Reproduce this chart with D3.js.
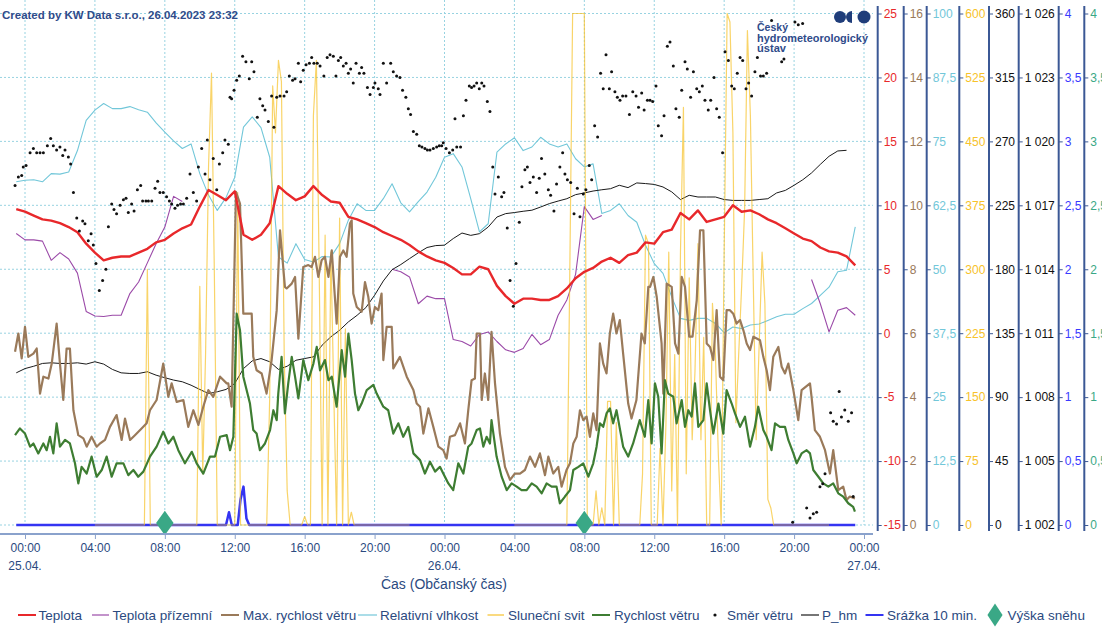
<!DOCTYPE html>
<html><head><meta charset="utf-8">
<script src="https://cdn.jsdelivr.net/npm/d3@7"></script>
<style>
html,body{margin:0;padding:0;background:#fff;}
svg{display:block;font-family:"Liberation Sans",Arial,sans-serif;}
</style></head><body>
<svg id="chart" width="1102" height="627"></svg>
<script>
// ---------------- DATA ----------------
// 30-minute samples from 24.04. 23:30 to 26.04. 23:30 (hours relative to 25.04. 00:00)
const firstHour = -0.5;
const stepHours = 0.5;

const teplota = [9.7,9.5,9.2,8.9,8.8,8.6,8.3,7.9,7.0,6.3,5.7,5.9,6.0,6.0,6.3,6.6,7.1,7.3,7.8,8.2,8.5,9.9,11.2,10.8,
10.4,11.1,7.7,7.3,7.7,8.6,11.5,10.9,10.4,10.7,11.5,10.8,10.3,10.2,9.1,8.9,8.6,8.3,7.9,7.6,7.3,6.9,6.4,6.0,5.7,
5.5,5.1,4.6,4.6,5.2,5.0,3.7,2.9,2.3,2.7,2.7,2.6,2.6,2.9,3.5,4.3,4.8,5.1,5.6,5.9,5.5,6.1,6.3,7.1,
7.0,7.9,8.1,9.4,8.9,9.6,8.7,8.9,9.1,10.0,9.5,9.6,9.3,8.9,8.6,8.2,7.8,7.4,7.2,6.7,6.4,6.3,6.0,5.3];

const teplotaPrizemni = [7.8,7.3,7.3,7.2,5.7,6.3,5.8,4.7,1.7,1.35,1.3,1.4,1.4,3.1,4.0,5.5,7.0,8.3,10.7,10.3,
null,null,null,null,null,null,null,null,null,null,null,null,null,null,null,null,null,null,null,null,null,null,null,
5.0,4.8,4.4,2.3,2.9,2.7,2.7,-0.5,-0.65,-1.0,-0.1,0.1,-0.65,-1.3,-1.5,-1.2,-0.1,-0.9,-0.5,1.4,2.6,4.6,9.9,8.9,9.2,
null,null,null,null,null,null,null,null,null,null,null,null,null,null,null,null,null,null,null,null,null,null,null,
4.2,2.3,0.1,1.8,2.0,1.4];

const vlhkost = [67.1,67.4,67.5,67.1,68.7,68.6,69.0,73.2,79.1,81.1,82.4,81.4,81.4,81.8,81.2,80.7,78.6,76.8,75.1,73.6,74.5,68.7,64.5,61.5,
64.0,68.0,77.8,79.8,77.7,71.9,52.4,51.2,55.0,51.9,51.4,52.5,52.4,55.0,59.6,62.8,61.5,61.5,63.8,66.7,63.0,61.2,63.2,65.1,68.0,
71.9,72.6,70.0,63.8,57.3,58.9,72.9,74.5,75.7,73.2,73.9,75.8,74.5,73.9,74.5,71.6,70.0,70.6,60.9,61.5,62.8,60.5,59.2,54.7,
51.1,49.2,44.6,40.4,40.0,40.4,40.4,39.4,37.6,38.7,38.4,39.1,39.3,40.0,40.7,41.2,41.2,42.3,43.3,44.9,46.5,49.5,49.8,58.3];

const pHm = [1009.14,1009.34,1009.45,1009.58,1009.61,1009.58,1009.58,1009.61,1009.55,1009.66,1009.55,1009.30,1009.14,1009.11,1009.11,1009.19,1009.03,1008.91,1008.80,1008.72,1008.56,1008.36,1008.17,1008.25,
1008.36,1008.64,1009.34,1009.70,1009.81,1009.66,1009.30,1009.45,1009.73,1009.81,1009.89,1010.44,1010.83,1011.14,1011.53,1011.84,1012.20,1012.78,1013.45,1013.98,1014.22,1014.50,1014.77,1015.02,1015.11,
1015.13,1015.44,1015.70,1015.59,1015.67,1015.98,1016.45,1016.61,1016.66,1016.72,1016.77,1016.92,1017.08,1017.20,1017.31,1017.50,1017.58,1017.67,1017.73,1017.78,1017.94,1017.83,1018.05,1018.02,
1017.98,1017.86,1017.63,1017.27,1017.47,1017.39,1017.39,1017.39,1017.27,1017.23,1017.23,1017.23,1017.27,1017.31,1017.58,1017.70,1017.94,1018.20,1018.52,1018.92,1019.30,1019.55,1019.58,null];

// Max. wind speed [hour, m/s]
const maxRychlost = [[-0.57,5.42],[-0.38,5.99],[-0.19,5.21],[0.0,6.2],[0.19,5.26],[0.48,5.36],[0.67,5.52],[0.86,4.11],[1.05,4.64],[1.34,4.58],[1.53,5.05],[1.81,6.3],[2.0,5.05],[2.19,3.91],[2.38,5.52],[2.57,5.52],[2.77,3.59],[3.05,2.81],[3.34,2.71],[3.53,2.45],[3.81,2.76],[4.1,2.45],[4.29,2.55],[4.58,2.66],[4.86,3.07],[5.24,3.44],[5.53,2.66],[5.72,3.33],[6.01,2.66],[6.29,2.81],[6.67,3.02],[6.96,3.18],[7.15,3.59],[7.53,3.91],[7.91,5.05],[8.2,4.01],[8.39,4.43],[8.68,3.85],[9.06,3.91],[9.34,3.07],[9.63,3.59],[9.92,3.13],[10.2,3.7],[10.49,4.22],[10.77,4.01],[11.16,4.64],[11.54,4.43],
[11.63,4.43],[11.82,3.7],[12.07,10.42],[12.3,10.05],[12.49,6.61],[12.68,6.61],[12.97,6.61],[13.06,5.26],[13.25,4.84],[13.54,4.74],[13.82,4.11],[14.11,5.16],[14.4,6.72],[14.59,9.22],[14.87,7.45],[14.97,7.4],[15.26,7.55],[15.45,7.76],[15.64,5.83],[15.92,8.07],[16.21,8.13],[16.4,8.07],[16.59,8.39],[16.78,7.76],[16.97,8.28],[17.16,8.39],[17.36,7.76],[17.55,8.59],[17.83,6.3],[18.02,8.39],[18.21,8.59],[18.4,8.39],[18.59,9.43],[18.69,9.53],[18.78,7.24],[18.98,6.82],[19.26,6.67],[19.45,7.6],[19.64,7.14],[19.83,6.3],[20.02,6.82],[20.21,6.72],[20.4,7.24],[20.5,5.16],[20.69,6.2],[20.98,6.2],[21.07,4.9],[21.45,5.26],[21.84,4.64],[22.22,4.22],[22.41,3.8],[22.6,3.7],[22.79,2.86],[23.08,3.65],[23.36,3.07],[23.65,2.45],
[23.93,2.34],[24.12,2.08],[24.31,2.76],[24.6,2.81],[24.89,3.18],[25.17,2.55],[25.36,3.59],[25.55,4.53],[25.74,4.58],[25.84,5.99],[26.03,5.99],[26.13,3.91],[26.31,4.74],[26.5,3.91],[26.69,6.04],[26.89,4.43],[27.17,2.86],[27.46,1.82],[27.75,1.41],[28.03,1.61],[28.32,1.61],[28.6,1.72],[28.89,2.14],[29.18,1.82],[29.46,2.24],[29.75,1.56],[29.94,2.14],[30.22,1.61],[30.51,1.82],[30.7,1.2],[30.98,1.72],[31.18,1.93],[31.37,2.55],[31.56,2.76],[31.75,3.59],[31.94,3.28],[32.13,3.39],[32.32,2.76],[32.51,3.49],[32.7,2.97],[32.89,5.68],[33.08,5.05],[33.27,4.74],[33.46,5.99],[33.65,6.61],[33.84,5.99],[34.03,6.41],[34.22,5.36],[34.51,3.8],[34.7,3.33],[34.98,3.91],[35.27,5.99],[35.46,5.68],[35.66,7.45],
[35.76,7.45],[35.95,7.76],[36.14,7.14],[36.42,5.68],[36.52,4.11],[36.71,7.55],[37.0,7.45],[37.19,5.68],[37.38,5.36],[37.57,7.76],[37.76,7.45],[38.0,5.89],[38.19,5.89],[38.43,7.03],[38.62,9.22],[38.81,9.22],[39.0,5.68],[39.19,5.57],[39.38,5.16],[39.57,6.72],[39.76,4.64],[39.95,4.53],[40.14,6.72],[40.33,6.72],[40.52,6.61],[40.71,6.3],[40.91,6.41],[41.1,6.09],[41.29,5.68],[41.48,5.47],[41.67,5.89],[42.05,5.78],[42.24,5.26],[42.43,4.84],[42.62,4.22],[42.81,5.26],[43.1,5.57],[43.29,4.95],[43.48,4.74],[43.67,5.05],[43.96,4.22],[44.24,3.28],[44.43,4.22],[44.91,4.43],[45.0,4.01],[45.19,2.97],[45.48,2.76],[45.77,2.34],[46.05,1.61],[46.24,2.34],[46.53,1.09],[46.81,1.2],[47.0,0.78],[47.19,0.89],[47.48,0.83]];

// Wind speed [hour, m/s]
const rychlost = [[-0.57,2.81],[-0.29,3.02],[0.0,2.86],[0.29,2.45],[0.48,2.55],[0.76,2.24],[1.05,2.55],[1.24,2.34],[1.43,2.76],[1.62,2.24],[1.81,3.18],[2.0,2.45],[2.29,2.66],[2.57,2.55],[2.86,1.93],[3.05,1.3],[3.24,1.82],[3.53,1.61],[3.81,2.14],[4.1,1.51],[4.39,1.72],[4.67,2.14],[4.96,1.51],[5.24,1.93],[5.63,1.93],[5.91,1.56],[6.2,1.72],[6.48,1.51],[6.77,1.67],[7.15,2.14],[7.53,2.45],[7.91,2.92],[8.2,2.55],[8.49,2.76],[8.77,2.34],[9.15,1.93],[9.54,2.29],[9.82,1.93],[10.2,1.61],[10.58,2.14],[10.87,2.14],[11.16,2.76],[11.54,2.81],
[11.73,2.34],[11.92,2.76],[12.01,4.64],[12.11,6.61],[12.3,6.09],[12.49,4.64],[12.87,3.8],[13.06,2.97],[13.25,2.86],[13.44,2.34],[13.73,2.55],[14.02,2.97],[14.21,3.59],[14.4,3.28],[14.49,4.11],[14.68,5.26],[14.87,3.49],[15.06,4.43],[15.26,5.26],[15.45,4.64],[15.64,3.96],[15.92,5.16],[16.21,4.53],[16.5,5.05],[16.69,5.57],[16.88,4.84],[17.16,5.16],[17.36,4.53],[17.55,4.64],[17.83,3.7],[18.12,5.47],[18.31,4.64],[18.5,5.99],[18.69,5.16],[18.88,4.11],[19.07,3.59],[19.26,3.8],[19.55,4.22],[19.93,4.38],[20.12,4.11],[20.5,3.7],[20.78,3.59],[21.07,2.86],[21.36,3.18],[21.64,2.76],[21.93,3.07],[22.22,2.24],[22.6,2.03],[22.88,1.61],[23.17,1.98],[23.46,1.67],[23.74,1.82],
[23.93,1.61],[24.22,1.3],[24.5,1.09],[24.79,1.93],[25.08,1.61],[25.36,2.45],[25.55,2.55],[25.84,2.97],[26.03,3.02],[26.22,2.45],[26.41,2.76],[26.6,2.55],[26.69,3.28],[26.98,2.14],[27.27,1.51],[27.56,1.09],[27.84,1.3],[28.13,1.2],[28.41,1.09],[28.7,1.09],[28.99,1.3],[29.27,1.2],[29.56,0.99],[29.84,1.3],[30.13,1.2],[30.41,1.2],[30.6,0.68],[30.89,0.89],[31.18,1.09],[31.37,1.72],[31.66,1.82],[31.94,1.93],[32.23,1.51],[32.51,1.93],[32.7,2.45],[32.89,3.18],[33.08,3.07],[33.27,3.49],[33.46,3.65],[33.65,3.18],[33.84,3.59],[34.22,2.45],[34.51,2.14],[34.79,2.55],[35.17,3.28],[35.46,2.76],[35.66,3.91],
[35.85,2.55],[36.04,4.43],[36.23,4.01],[36.42,2.24],[36.61,4.53],[36.8,4.11],[37.09,4.01],[37.28,3.18],[37.57,3.91],[37.76,3.07],[37.95,3.59],[38.14,3.39],[38.33,4.43],[38.52,3.07],[38.81,3.28],[39.0,4.43],[39.19,3.59],[39.38,2.86],[39.67,3.8],[39.95,2.86],[40.14,4.22],[40.43,3.8],[40.62,3.49],[40.91,3.07],[41.19,3.39],[41.48,2.45],[41.76,3.07],[41.95,3.7],[42.24,2.97],[42.43,2.76],[42.71,2.34],[42.91,3.18],[43.19,3.07],[43.48,3.07],[43.67,2.66],[43.96,2.24],[44.15,1.93],[44.43,2.24],[44.72,2.34],[44.91,2.24],[45.1,1.72],[45.39,1.51],[45.67,1.3],[45.96,1.2],[46.24,1.3],[46.53,0.99],[46.81,0.89],[47.1,0.68],[47.38,0.57],[47.48,0.42]];

// Sunshine [hour, seconds per 10 min]; null = no data
const slunecniSvit = [[4.0,0],[6.83,0],[7.0,300],[7.17,0],
[9.83,0],[10.0,280],[10.17,60],[10.33,200],[10.5,420],[10.67,530],[10.83,300],[11.0,0],
[12.0,0],[12.17,390],[12.33,0],
[13.83,0],[14.0,150],[14.17,515],[14.33,460],[14.5,545],[14.67,520],[14.83,200],[15.0,40],[15.17,0],
[15.83,0],[16.0,10],[16.17,0],
[16.33,0],[16.5,480],[16.67,545],[16.83,300],[17.0,0],[17.17,340],[17.33,0],[17.5,320],[17.67,150],[17.83,0],[18.0,360],[18.17,0],[18.33,230],[18.5,0],[18.67,15],[18.83,0],
[22.0,0],[22.17,null],
[28.0,0],[31.0,0],[31.17,300],[31.33,600],[31.5,600],[31.67,600],[31.83,600],[32.0,600],[32.17,0],
[32.5,0],[32.67,40],[32.83,0],[33.0,20],[33.17,0],[33.33,145],[33.5,145],[33.67,0],[33.83,120],[34.0,0],
[35.17,0],[35.33,60],[35.5,340],[35.67,330],[35.83,0],[36.17,0],[36.33,90],[36.5,0],[36.67,120],[36.83,320],[37.0,40],[37.17,200],[37.33,0],
[37.5,320],[37.67,490],[37.83,60],[38.0,290],[38.17,100],[38.33,180],[38.5,330],[38.67,100],[38.83,220],[39.0,0],[39.17,0],[39.33,260],[39.5,200],[39.67,80],[39.83,0],
[40.0,320],[40.17,600],[40.33,590],[40.5,460],[40.67,120],[40.83,200],[41.0,280],[41.17,370],[41.33,580],[41.5,480],[41.67,280],[41.83,100],[42.0,210],[42.17,320],[42.33,260],[42.5,30],[42.67,20],[42.83,0],
[46.0,0],[46.17,null]];

// Precipitation 10 min [hour, mm]
const srazka = [[-0.5,0],[11.5,0],[11.67,0.1],[11.83,0],[12.17,0],[12.33,0.2],[12.5,0.3],[12.67,0.05],[12.83,0],[47.5,0]];

// Snow height [hour, cm]
const vyskaSnehu = [[8,0],[32,0]];

// Wind direction [hour, degrees]
const smerVetru = [[-0.57,239],[-0.38,245],[-0.19,246],[-0.1,252],[0.06,253],[0.29,262],[0.48,265],[0.67,262],[0.86,262],[1.05,262],[1.28,267],[1.47,272],[1.62,267],[1.81,264],[2.0,266],[2.16,260],[2.29,264],[2.48,259],[2.61,254],[2.77,234],[2.96,216],[3.11,207],[3.3,214],[3.43,212],[3.62,200],[3.78,205],[3.91,197],[4.06,184],[4.25,165],[4.44,172],[4.63,180],[4.77,210],[4.96,226],[5.09,222],[5.24,219],[5.44,225],[5.63,229],[5.78,230],[5.91,220],[6.1,226],[6.24,221],[6.43,236],[6.62,239],[6.73,228],[6.92,228],[7.06,228],[7.25,228],[7.44,237],[7.59,242],[7.72,234],[7.91,234],[8.1,231],[8.26,228],[8.39,226],[8.58,223],[8.73,225],[8.9,226],[9.06,226],[9.25,230],[9.44,247],[9.63,234],[9.82,228],[9.92,252],[10.11,265],[10.3,247],[10.43,271],[10.58,243],[10.77,258],[10.97,236],[11.12,254],[11.31,262],[11.44,271],[11.63,268],[11.73,301],
[11.82,300],[11.96,306],[12.11,313],[12.26,316],[12.45,330],[12.64,326],[12.83,314],[12.97,326],[13.1,319],[13.29,287],[13.44,300],[13.6,295],[13.73,292],[13.92,284],[14.11,302],[14.24,280],[14.4,301],[14.59,302],[14.82,302],[14.97,305],[15.12,316],[15.31,313],[15.45,314],[15.64,325],[15.77,312],[15.92,320],[16.08,324],[16.27,325],[16.4,329],[16.53,325],[16.72,325],[16.88,323],[17.1,316],[17.29,329],[17.45,331],[17.64,330],[17.79,316],[17.93,327],[18.06,329],[18.21,323],[18.37,325],[18.5,318],[18.63,321],[18.78,311],[18.94,325],[19.13,318],[19.26,322],[19.39,318],[19.59,308],[19.74,303],[19.93,308],[20.02,311],[20.21,307],[20.31,303],[20.5,325],[20.69,311],[20.92,325],[21.07,319],[21.26,316],[21.45,315],[21.6,306],[21.79,301],[21.93,293],[22.06,289],[22.22,277],[22.41,275],[22.56,267],[22.71,266],[22.88,265],[23.02,264],[23.17,264],[23.36,265],[23.55,266],[23.7,267],
[23.84,267],[23.93,269],[24.09,265],[24.28,262],[24.47,264],[24.6,286],[24.7,266],[24.92,266],[25.08,288],[25.23,299],[25.42,309],[25.55,308],[25.69,309],[25.84,311],[25.99,307],[26.13,311],[26.26,309],[26.45,298],[26.6,291],[26.76,252],[26.89,233],[27.08,245],[27.27,231],[27.4,234],[27.59,209],[27.75,172],[27.94,154],[28.09,184],[28.28,213],[28.43,238],[28.6,250],[28.74,252],[28.89,241],[29.08,245],[29.27,234],[29.42,244],[29.55,258],[29.74,247],[29.94,236],[30.07,232],[30.26,221],[30.41,240],[30.6,252],[30.76,262],[30.89,247],[31.03,243],[31.22,241],[31.41,219],[31.6,237],[31.75,217],[31.94,233],[32.09,236],[32.28,253],[32.42,243],[32.59,281],[32.76,273],[32.93,318],[33.08,307],[33.24,331],[33.43,307],[33.56,319],[33.75,305],[33.89,301],[34.04,299],[34.19,302],[34.38,302],[34.58,289],[34.77,305],[34.96,302],[35.1,294],[35.28,304],[35.42,292],[35.61,299],
[35.76,299],[35.91,298],[36.1,309],[36.23,281],[36.42,274],[36.56,288],[36.75,337],[36.9,340],[37.09,323],[37.24,293],[37.43,287],[37.57,306],[37.76,326],[37.89,321],[38.08,301],[38.24,319],[38.43,307],[38.58,305],[38.75,309],[38.9,299],[39.09,292],[39.23,299],[39.42,315],[39.57,293],[39.72,287],[39.91,262],[40.05,333],[40.24,327],[40.43,309],[40.58,307],[40.75,318],[40.91,329],[41.06,327],[41.25,307],[41.4,311],[41.57,302],[41.76,319],[41.9,329],[42.08,316],[42.24,316],[42.43,318],[42.71,355],[43.29,326],[43.42,328],[43.92,2],[44.05,354],[44.24,352],[44.49,353],[44.72,12],[44.91,5],[45.1,8],[45.29,9],[45.48,27],[45.64,29],[45.77,36],[46.09,79],[46.24,73],[46.43,71],[46.58,94],[46.71,76],[46.9,81],[47.1,73],[47.29,79],[47.38,20]];

// Axis tick values
const ticksTeplota = [-15,-10,-5,0,5,10,15,20,25];
const ticksVitr = [0,2,4,6,8,10,12,14,16];
const ticksVlhkost = [0,12.5,25,37.5,50,62.5,75,87.5,100];
const ticksSvit = [0,75,150,225,300,375,450,525,600];
const ticksSmer = [0,45,90,135,180,225,270,315,360];
const ticksTlak = [1002,1005,1008,1011,1014,1017,1020,1023,1026];
const ticksSrazka = [0,0.5,1,1.5,2,2.5,3,3.5,4];
const ticksSnih = [0,0.5,1,1.5,2,2.5,3,3.5,4];

const legendNames = ["Teplota","Teplota přízemní","Max. rychlost větru","Relativní vlhkost","Sluneční svit","Rychlost větru","Směr větru","P_hm","Srážka 10 min.","Výška sněhu"];

// ---------------- CHART ----------------
(function(){
const svg = d3.select("#chart");
const H0 = Date.UTC(2023,3,25,0,0);
const toDate = h => new Date(H0 + h*3600e3);

const x = d3.scaleUtc().domain([toDate(0), toDate(48)]).range([25, 864]);
const plotTop = 13.5, plotBottom = 525;
const yT = d3.scaleLinear([-15,25],[plotBottom,plotTop]);
const yW = d3.scaleLinear([0,16],[plotBottom,plotTop]);
const yH = d3.scaleLinear([0,100],[plotBottom,plotTop]);
const yS = d3.scaleLinear([0,600],[plotBottom,plotTop]);
const yD = d3.scaleLinear([0,360],[plotBottom,plotTop]);
const yP = d3.scaleLinear([1002,1026],[plotBottom,plotTop]);
const yR = d3.scaleLinear([0,4],[plotBottom,plotTop]);
const yN = d3.scaleLinear([0,4],[plotBottom,plotTop]);

const loc = d3.formatLocale({decimal:",",thousands:"\u00a0",grouping:[3],currency:["",""],minus:"-"});
const fmt = loc.format(",.1~f");

const navy = "#2b4a7f";
const gridCol = "#98d3e1";

// grid
const xTicks = d3.range(0,49,4).map(toDate);
const gGrid = svg.append("g");
gGrid.selectAll("line.v").data(xTicks).join("line").attr("class","v")
  .attr("x1",d=>x(d)).attr("x2",d=>x(d)).attr("y1",0).attr("y2",plotBottom)
  .attr("stroke",gridCol).attr("stroke-width",1).attr("stroke-dasharray","2,2");
gGrid.selectAll("line.h").data(ticksTeplota).join("line").attr("class","h")
  .attr("x1",0).attr("x2",873).attr("y1",d=>yT(d)).attr("y2",d=>yT(d))
  .attr("stroke",gridCol).attr("stroke-width",1).attr("stroke-dasharray","2,2");

// series helpers
const seq = arr => arr.map((v,i)=>({t:toDate(firstHour+i*stepHours), v}));
const pairs = arr => arr.map(p=>({t:toDate(p[0]), v:p[1]}));
function drawLine(data, y, color, width, opacity){
  svg.append("path").datum(data)
    .attr("fill","none").attr("stroke",color).attr("stroke-width",width)
    .attr("stroke-opacity",opacity||1).attr("stroke-linejoin","round")
    .attr("d", d3.line().defined(d=>d.v!=null).x(d=>x(d.t)).y(d=>y(d.v)));
}

drawLine(seq(vlhkost), yH, "#72c7d9", 1.1);
drawLine(seq(teplotaPrizemni), yT, "#9b4aa8", 1.1);
drawLine(seq(pHm), yP, "#1a1a1a", 1);
drawLine(pairs(srazka), yR, "#3434f2", 2.5);
drawLine(pairs(slunecniSvit), yS, "#f7c22a", 1.2, 0.7);
drawLine(pairs(maxRychlost), yW, "#9a7a5a", 2.2);
drawLine(pairs(rychlost), yW, "#3e7d32", 2.2);
drawLine(seq(teplota), yT, "#e8282b", 2.4);

// wind direction dots
svg.append("g").selectAll("circle").data(pairs(smerVetru)).join("circle")
  .attr("cx",d=>x(d.t)).attr("cy",d=>yD(d.v)).attr("r",1.5).attr("fill","#111");

// snow diamonds
const diamond = d3.symbol().type(d3.symbolDiamond).size(170);
svg.append("g").selectAll("path").data(pairs(vyskaSnehu)).join("path")
  .attr("d",diamond).attr("transform",d=>`translate(${x(d.t)},${yN(d.v)-2}) scale(1.25,1)`)
  .attr("fill","#3aa886");

// x axis
svg.append("line").attr("x1",0).attr("x2",873).attr("y1",534).attr("y2",534)
  .attr("stroke","#8aa2cc").attr("stroke-width",2);
const xAxis = svg.append("g").attr("transform","translate(0,534)")
  .call(d3.axisBottom(x).tickValues(xTicks).tickFormat(d3.utcFormat("%H:%M")).tickSize(5).tickPadding(4));
xAxis.select(".domain").remove();
xAxis.selectAll(".tick line").attr("stroke","#8aa2cc");
xAxis.selectAll(".tick text").attr("fill",navy).attr("font-size",12).attr("font-family","Liberation Sans, Arial, sans-serif");
svg.append("g").selectAll("text").data(xTicks.filter(d=>d.getUTCHours()===0)).join("text")
  .attr("x",d=>x(d)).attr("y",570).attr("text-anchor","middle").attr("font-size",12).attr("fill",navy)
  .text(d3.utcFormat("%d.%m."));
svg.append("text").attr("x",444).attr("y",589).attr("text-anchor","middle").attr("font-size",14)
  .attr("fill",navy).text("Čas (Občanský čas)");

// right axes
const axesCfg = [
  {x:877.7, s:yT, t:ticksTeplota, c:"#e8282b"},
  {x:903.7, s:yW, t:ticksVitr, c:"#9a7a5a"},
  {x:926.7, s:yH, t:ticksVlhkost, c:"#72c7d9"},
  {x:959.3, s:yS, t:ticksSvit, c:"#f7c22a"},
  {x:989, s:yD, t:ticksSmer, c:"#111"},
  {x:1018.7, s:yP, t:ticksTlak, c:"#111"},
  {x:1058.7, s:yR, t:ticksSrazka, c:"#3a3aff"},
  {x:1084.3, s:yN, t:ticksSnih, c:"#3aa886"}
];
const axisCol = "#3b5895";
axesCfg.forEach(a=>{
  svg.append("line").attr("x1",a.x).attr("x2",a.x).attr("y1",6).attr("y2",531)
    .attr("stroke",axisCol).attr("stroke-width",2);
  const g = svg.append("g").attr("transform",`translate(${a.x},0)`)
    .call(d3.axisRight(a.s).tickValues(a.t).tickFormat(fmt).tickSize(4).tickPadding(2));
  g.select(".domain").remove();
  g.selectAll(".tick line").attr("stroke",axisCol).attr("stroke-width",1);
  g.selectAll(".tick text").attr("fill",a.c).attr("font-size",12).attr("font-family","Liberation Sans, Arial, sans-serif");
});

// header
svg.append("text").attr("x",2).attr("y",18.5).attr("font-size",11).attr("font-weight","bold")
  .attr("fill","#2f4b8a").attr("textLength",236).attr("lengthAdjust","spacingAndGlyphs")
  .text("Created by KW Data s.r.o., 26.04.2023 23:32");

// logo
const logo = svg.append("g").attr("fill","#1f3d7a");
logo.append("circle").attr("cx",840).attr("cy",17).attr("r",6);
logo.append("path").attr("d","M852,11 A6,6 0 0 0 852,23 Z");
logo.append("circle").attr("cx",864).attr("cy",17).attr("r",6.5);
[["Český",31,31],["hydrometeorologický",41.5,111],["ústav",52,29]].forEach(l=>{
  logo.append("text").attr("x",757).attr("y",l[1]).attr("font-size",11).attr("font-weight","bold")
    .attr("fill","#2f4b8a").attr("textLength",l[2]).attr("lengthAdjust","spacingAndGlyphs").text(l[0]);
});

// legend
const legY = 615;
const leg = svg.append("g").attr("font-size",13.5).attr("fill",navy);
const legendItems = [
  {kind:"line", c:"#e8282b", w:2, x0:18, x1:36, tx:38.6},
  {kind:"line", c:"#9b4aa8", w:1.2, x0:92, x1:109, tx:112.5},
  {kind:"line", c:"#9a7a5a", w:2, x0:221, x1:239, tx:243},
  {kind:"line", c:"#72c7d9", w:1.2, x0:358, x1:377, tx:380},
  {kind:"line", c:"#f7c22a", w:1.2, x0:487.5, x1:504, tx:508},
  {kind:"line", c:"#3e7d32", w:2, x0:592, x1:610, tx:614},
  {kind:"dot", c:"#111", x0:715, tx:727},
  {kind:"line", c:"#1a1a1a", w:1.2, x0:801, x1:819, tx:822},
  {kind:"line", c:"#3434f2", w:2, x0:865.5, x1:883.5, tx:887},
  {kind:"diamond", c:"#3aa886", x0:995, tx:1007.6}
];
legendItems.forEach((it,i)=>{
  if(it.kind==="line"){
    leg.append("line").attr("x1",it.x0).attr("x2",it.x1).attr("y1",legY).attr("y2",legY)
      .attr("stroke",it.c).attr("stroke-width",it.w);
  } else if(it.kind==="dot"){
    leg.append("circle").attr("cx",it.x0).attr("cy",legY).attr("r",1.6).attr("fill",it.c);
  } else {
    leg.append("path").attr("d",d3.symbol().type(d3.symbolDiamond).size(150))
      .attr("transform",`translate(${it.x0},${legY}) scale(1.15,1)`).attr("fill",it.c);
  }
  leg.append("text").attr("x",it.tx).attr("y",legY+5).text(legendNames[i]);
});
})();
</script>
</body></html>
